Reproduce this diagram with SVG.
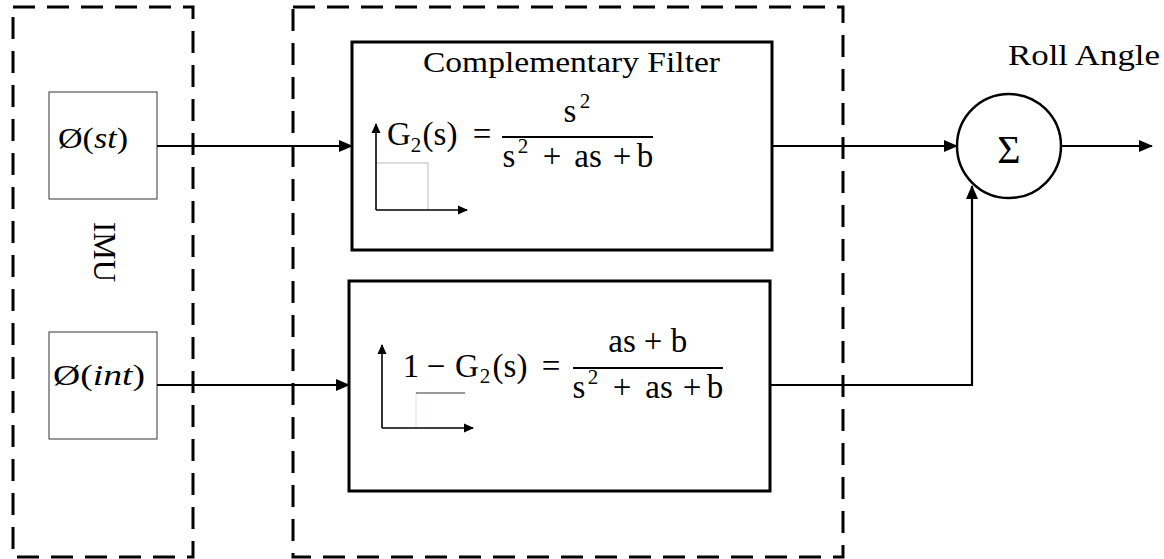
<svg xmlns="http://www.w3.org/2000/svg" width="1164" height="559" viewBox="0 0 1164 559">
<style>
.dash{fill:none;stroke:#000;stroke-width:3;stroke-dasharray:22 12}
.box{fill:#fff;stroke:#000;stroke-width:3}
.ibox{fill:#fff;stroke:#555;stroke-width:1.2}
.wire{fill:none;stroke:#000;stroke-width:2.2}
.axis{fill:none;stroke:#000;stroke-width:1.6}
.lt{fill:none;stroke:#bbb;stroke-width:1}
.t{font-family:"Liberation Serif","Times New Roman",serif;fill:#000}
.m{font-family:"Liberation Serif","DejaVu Serif",serif;fill:#000;font-size:33px;text-anchor:middle}
.sub{font-size:21px}
.it{font-style:italic}
</style>
<defs>
<marker id="ah" markerUnits="userSpaceOnUse" markerWidth="14" markerHeight="12" refX="13" refY="6" orient="auto">
<path d="M0,0 L14,6 L0,12 Z" fill="#000"/>
</marker>
<marker id="sah" markerUnits="userSpaceOnUse" markerWidth="10" markerHeight="10" refX="9" refY="5" orient="auto">
<path d="M0,0.5 L10,5 L0,9.5 Z" fill="#000"/>
</marker>
</defs>

<g id="imu-group">
<rect class="dash" x="13" y="7" width="180" height="550"/>
<text class="t" font-size="31" transform="translate(94,222) rotate(90)" textLength="60" lengthAdjust="spacingAndGlyphs">IMU</text>
</g>

<g id="filter-group">
<rect class="dash" x="293" y="7" width="550" height="550"/>
</g>

<g id="imu-st">
<rect class="ibox" x="49" y="92" width="108" height="107"/>
<text class="t" x="58" y="148" font-size="30" textLength="70" lengthAdjust="spacingAndGlyphs">Ø(<tspan class="it">st</tspan>)</text>
</g>

<g id="imu-int">
<rect class="ibox" x="49" y="332" width="108" height="107"/>
<text class="t" x="53" y="385" font-size="30" textLength="92" lengthAdjust="spacingAndGlyphs">Ø(<tspan class="it">int</tspan>)</text>
</g>

<g id="hpf">
<rect class="box" x="352" y="42" width="420" height="208"/>
<text class="t" x="423" y="72" font-size="30" textLength="297" lengthAdjust="spacingAndGlyphs">Complementary Filter</text>
<path class="lt" d="M376,163 H428 V210"/>
<path class="axis" d="M376,210 V124" marker-end="url(#sah)"/>
<path class="axis" d="M376,210 H467" marker-end="url(#sah)"/>
<text class="m" y="145"><tspan x="399">G</tspan><tspan class="sub" x="416" y="152">2</tspan><tspan x="440" y="145">(s)</tspan><tspan x="482">=</tspan></text>
<line x1="502" y1="137" x2="653" y2="137" stroke="#000" stroke-width="2"/>
<text class="m" y="122"><tspan x="570">s</tspan><tspan class="sub" x="585" y="108">2</tspan></text>
<text class="m" y="167"><tspan x="509">s</tspan><tspan class="sub" x="523" y="153">2</tspan><tspan x="552" y="167">+</tspan><tspan x="588">as</tspan><tspan x="622">+</tspan><tspan x="645">b</tspan></text>
</g>

<g id="lpf">
<rect class="box" x="349" y="281" width="421" height="210"/>
<path d="M416,393 V428" fill="none" stroke="#e6eaf2" stroke-width="1.5"/>
<path d="M416,393 H465" fill="none" stroke="#333" stroke-width="1.2"/>
<path class="axis" d="M382,428 V345" marker-end="url(#sah)"/>
<path class="axis" d="M382,428 H473" marker-end="url(#sah)"/>
<text class="m" y="377"><tspan x="411">1</tspan><tspan x="436">−</tspan><tspan x="467">G</tspan><tspan class="sub" x="485" y="383">2</tspan><tspan x="510" y="377">(s)</tspan><tspan x="551">=</tspan></text>
<line x1="573" y1="368" x2="723" y2="368" stroke="#000" stroke-width="2"/>
<text class="m" y="352"><tspan x="622">as</tspan><tspan x="653">+</tspan><tspan x="679">b</tspan></text>
<text class="m" y="398"><tspan x="579">s</tspan><tspan class="sub" x="593" y="384">2</tspan><tspan x="622" y="398">+</tspan><tspan x="659">as</tspan><tspan x="692">+</tspan><tspan x="715">b</tspan></text>
</g>

<g id="sum">
<circle cx="1009" cy="146" r="52" fill="#fff" stroke="#000" stroke-width="2.5"/>
<text class="t" x="1009" y="163" font-size="40" text-anchor="middle">Σ</text>
</g>

<g id="roll-label">
<text class="t" x="1008" y="65" font-size="30" textLength="152" lengthAdjust="spacingAndGlyphs">Roll Angle</text>
</g>

<g id="connectors">
<path class="wire" d="M157,146 H352" marker-end="url(#ah)"/>
<path class="wire" d="M157,385 H349" marker-end="url(#ah)"/>
<path class="wire" d="M772,146 H957" marker-end="url(#ah)"/>
<path class="wire" d="M770,385 H972 V186" marker-end="url(#ah)"/>
<path class="wire" d="M1061,146 H1152" marker-end="url(#ah)"/>
</g>
</svg>
